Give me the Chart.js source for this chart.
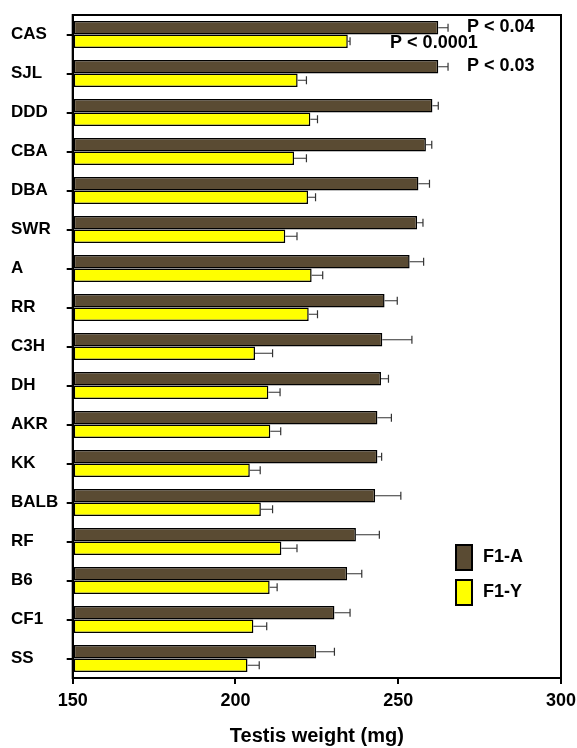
<!DOCTYPE html>
<html>
<head>
<meta charset="utf-8">
<script src="https://cdn.jsdelivr.net/npm/chart.js@4/dist/chart.umd.min.js"></script>
<style>
  body { margin: 0; background: #fff; }
</style>
</head>
<body>
<canvas id="testisChart" width="577" height="748"></canvas>
<script>
// strains, top to bottom
const strains = ['CAS', 'SJL', 'DDD', 'CBA', 'DBA', 'SWR', 'A', 'RR', 'C3H', 'DH', 'AKR', 'KK', 'BALB', 'RF', 'B6', 'CF1', 'SS'];

// F1-A (brown) means and SEM
const f1A = [262.3, 262.3, 260.5, 258.5, 256.2, 255.8, 253.5, 245.8, 245.1, 244.7, 243.6, 243.6, 242.9, 237.0, 234.3, 230.4, 224.8];
const f1AErr = [3.0, 3.0, 1.8, 1.8, 3.4, 1.8, 4.3, 3.9, 9.1, 2.3, 4.3, 1.3, 7.9, 7.2, 4.5, 4.8, 5.6];

// F1-Y (yellow) means and SEM
const f1Y = [234.5, 219.1, 223.0, 218.0, 222.3, 215.3, 223.4, 222.5, 206.0, 210.1, 210.7, 204.4, 207.8, 214.1, 210.5, 205.5, 203.7];
const f1YErr = [0.7, 2.7, 2.2, 3.8, 2.3, 3.6, 3.4, 2.7, 5.4, 3.6, 3.2, 3.2, 3.6, 4.8, 2.3, 4.1, 3.6];

const xTicks = [150, 200, 250, 300];

// p-value notes: text, strain index, dataset index, x position (mg)
const pTexts = ['P < 0.04', 'P < 0.0001', 'P < 0.03'];
const pStrain = [0, 0, 1];
const pSeries = [0, 1, 0];
const pAt = [271.1, 247.5, 271.1];

const FONT = "'Liberation Sans', Arial, sans-serif";
const BROWN = '#5a4b33';
const YELLOW = '#ffff00';

// one-sided error bars to the right of each bar
const errorBars = {
  id: 'errorBars',
  afterDatasetsDraw(chart) {
    const ctx = chart.ctx;
    const xs = chart.scales.x;
    [f1AErr, f1YErr].forEach((errs, d) => {
      const meta = chart.getDatasetMeta(d);
      const vals = chart.data.datasets[d].data;
      meta.data.forEach((bar, i) => {
        const x0 = bar.x;
        const x1 = xs.getPixelForValue(vals[i] + errs[i]);
        ctx.save();
        ctx.strokeStyle = '#333';
        ctx.lineWidth = 1.2;
        ctx.beginPath();
        ctx.moveTo(x0, bar.y);
        ctx.lineTo(x1, bar.y);
        ctx.moveTo(x1, bar.y - 4);
        ctx.lineTo(x1, bar.y + 4);
        ctx.stroke();
        ctx.restore();
      });
    });
  }
};

// frame, p-value notes and legend
const extras = {
  id: 'extras',
  afterDraw(chart) {
    const ctx = chart.ctx;
    const a = chart.chartArea;
    const xs = chart.scales.x;
    ctx.save();
    ctx.strokeStyle = '#000';
    ctx.lineWidth = 2;
    ctx.strokeRect(a.left, a.top, a.right - a.left, a.bottom - a.top);

    ctx.fillStyle = '#000';
    ctx.font = 'bold 18px ' + FONT;
    ctx.textBaseline = 'middle';
    ctx.textAlign = 'left';
    pTexts.forEach((t, k) => {
      const bar = chart.getDatasetMeta(pSeries[k]).data[pStrain[k]];
      ctx.fillText(t, xs.getPixelForValue(pAt[k]), bar.y + (pSeries[k] ? 2 : -1));
    });

    // legend
    chart.data.datasets.forEach((ds, d) => {
      const y = 545 + d * 35;
      ctx.fillStyle = ds.backgroundColor;
      ctx.fillRect(456, y, 16, 25);
      ctx.strokeStyle = '#000';
      ctx.lineWidth = 2;
      ctx.strokeRect(456, y, 16, 25);
      ctx.fillStyle = '#000';
      ctx.fillText(ds.label, 483, y + 12);
    });
    ctx.restore();
  }
};

new Chart(document.getElementById('testisChart'), {
  type: 'bar',
  data: {
    labels: strains,
    datasets: [
      {
        label: 'F1-A',
        data: f1A,
        backgroundColor: BROWN,
        borderColor: '#000',
        borderWidth: 1.5,
        borderSkipped: false,
        base: 150,
        barPercentage: 1.0,
        categoryPercentage: 0.69
      },
      {
        label: 'F1-Y',
        data: f1Y,
        backgroundColor: YELLOW,
        borderColor: '#000',
        borderWidth: 1.5,
        borderSkipped: false,
        base: 150,
        barPercentage: 1.0,
        categoryPercentage: 0.69
      }
    ]
  },
  options: {
    indexAxis: 'y',
    responsive: false,
    animation: false,
    layout: { padding: { left: 11, top: 15, right: 0, bottom: 0 } },
    plugins: {
      legend: { display: false },
      tooltip: { enabled: false }
    },
    scales: {
      x: {
        min: 150,
        max: 300,
        afterBuildTicks(scale) {
          scale.ticks = xTicks.map(v => ({ value: v }));
        },
        afterFit(scale) {
          scale.height = 70;
          scale.paddingRight = 16;
        },
        grid: { drawOnChartArea: false, drawTicks: true, tickLength: 6, lineWidth: 2, color: '#000' },
        border: { color: '#000', width: 2 },
        ticks: { color: '#000', font: { family: FONT, size: 18, weight: 'bold' }, padding: 6 },
        title: {
          display: true,
          text: 'Testis weight (mg)',
          color: '#000',
          font: { family: FONT, size: 20, weight: 'bold' },
          padding: { top: 0, bottom: 0 }
        }
      },
      y: {
        afterFit(scale) { scale.width = 61.7; },
        grid: { offset: false, drawOnChartArea: false, drawTicks: true, tickLength: 6, lineWidth: 2, color: '#000' },
        border: { color: '#000', width: 2 },
        ticks: { color: '#000', crossAlign: 'far', font: { family: FONT, size: 17, weight: 'bold' } }
      }
    }
  },
  plugins: [errorBars, extras]
});
</script>
</body>
</html>
